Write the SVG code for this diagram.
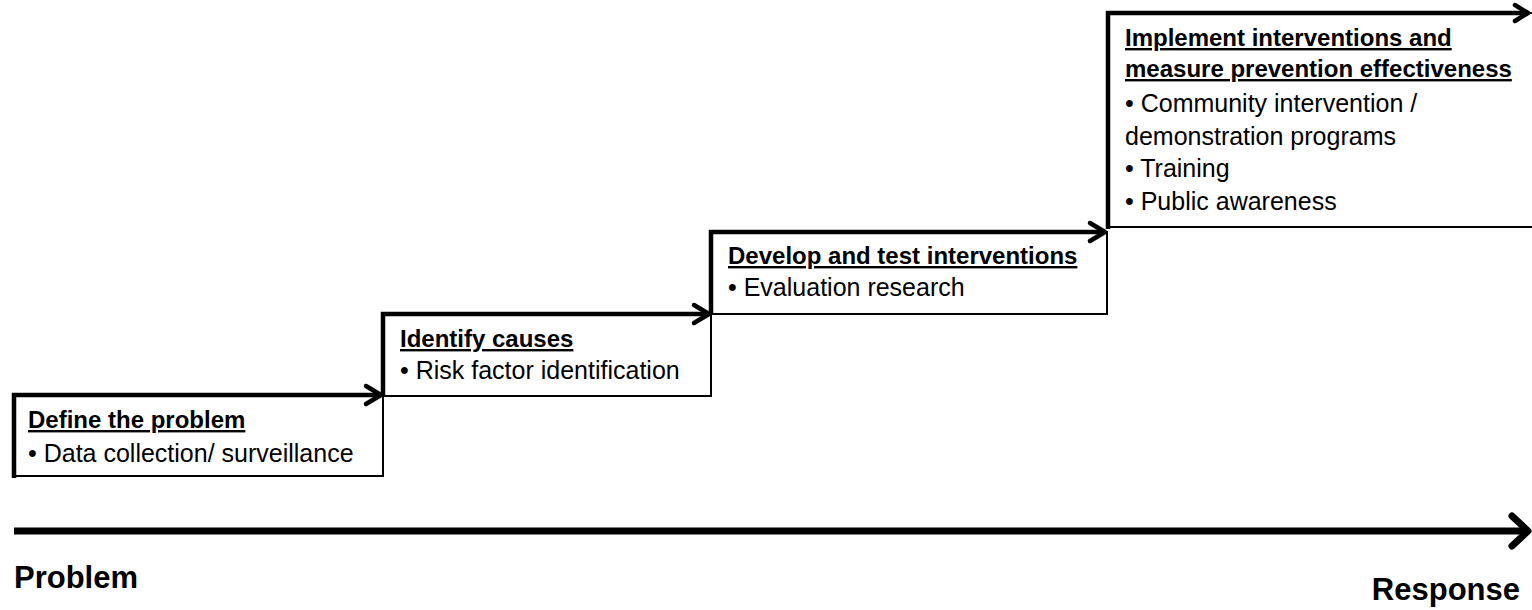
<svg xmlns="http://www.w3.org/2000/svg" width="1532" height="610" viewBox="0 0 1532 610">
<defs>
<style>
text{font-family:"Liberation Sans",Arial,sans-serif;fill:#000}
.t{font-size:24px;font-weight:bold;text-decoration:underline}
.b{font-size:25px}
.big{font-size:31px;font-weight:bold}
.box{fill:#fff;stroke:#000;stroke-width:2}
.thick{fill:none;stroke:#000;stroke-width:4.5;stroke-linejoin:miter}
.head{fill:none;stroke:#000;stroke-width:4.5;stroke-linecap:round;stroke-linejoin:round}
</style>
</defs>
<rect width="1532" height="610" fill="#fff"/>
<g id="node1">
<rect class="box" x="14" y="395" width="369" height="81"/>
<text class="t" x="28" y="428">Define the problem</text>
<text class="b" x="28" y="462">• Data collection/ surveillance</text>
</g>
<g id="node2">
<rect class="box" x="383" y="314" width="328" height="82"/>
<text class="t" x="400" y="347">Identify causes</text>
<text class="b" x="400" y="379">• Risk factor identification</text>
</g>
<g id="node3">
<rect class="box" x="711" y="232" width="396" height="82"/>
<text class="t" x="728" y="264">Develop and test interventions</text>
<text class="b" x="728" y="296">• Evaluation research</text>
</g>
<g id="node4">
<rect class="box" x="1108" y="13" width="440" height="214"/>
<text class="t" x="1125" y="46">Implement interventions and</text>
<text class="t" x="1125" y="77">measure prevention effectiveness</text>
<text class="b" x="1125" y="112">• Community intervention /</text>
<text class="b" x="1125" y="145">demonstration programs</text>
<text class="b" x="1125" y="177">• Training</text>
<text class="b" x="1125" y="210">• Public awareness</text>
</g>
<g id="connectors">
<path class="thick" d="M14,478 V395 H381"/>
<path class="head" d="M366,386 L381,395 L366,404"/>
<path class="thick" d="M383,397 V314 H709"/>
<path class="head" d="M694,305 L709,314 L694,323"/>
<path class="thick" d="M711,315 V232 H1105"/>
<path class="head" d="M1090,223 L1105,232 L1090,241"/>
<path class="thick" d="M1108,229 V13 H1528"/>
<path class="head" d="M1515,5 L1528,13 L1515,21"/>
<path d="M14,531 H1526" fill="none" stroke="#000" stroke-width="7"/>
<path d="M1512,516 L1528,531 L1512,546" fill="none" stroke="#000" stroke-width="7" stroke-linecap="round" stroke-linejoin="round"/>
</g>
<g id="labels">
<text class="big" x="14" y="588">Problem</text>
<text class="big" x="1520" y="600" text-anchor="end">Response</text>
</g>
</svg>
